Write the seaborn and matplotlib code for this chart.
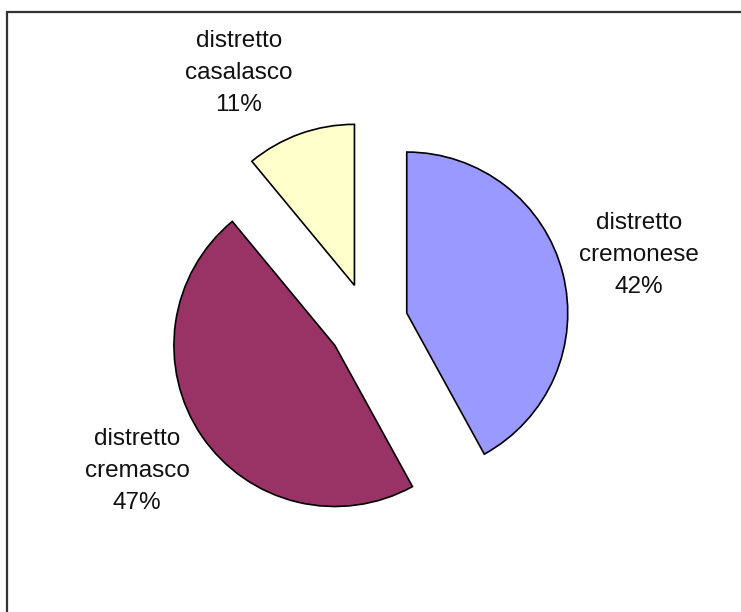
import matplotlib
matplotlib.use("Agg")
import matplotlib.pyplot as plt
import seaborn as sns
from matplotlib.lines import Line2D

sns.set_theme(style="white")
plt.rcParams["font.family"] = ["Liberation Sans", "DejaVu Sans"]

# data
districts = ["distretto cremonese", "distretto cremasco", "distretto casalasco"]
shares = [42, 47, 11]
colors = ["#9999FF", "#993366", "#FFFFCC"]

# layout (pixels)
W, H = 741, 612
R = 161.0
center_px = (368, 323)
explode_px = 40
label_px = [(639, 255), (137, 471), (239, 73)]

fig = plt.figure(figsize=(W / 100, H / 100), dpi=100)
fig.patch.set_facecolor("white")
ax = fig.add_axes([0, 0, 1, 1])

labels = [d.replace(" ", "\n") + f"\n{s}%" for d, s in zip(districts, shares)]
wedges, texts = ax.pie(
    shares,
    labels=labels,
    colors=colors,
    startangle=90,
    counterclock=False,
    center=(center_px[0] / R, (H - center_px[1]) / R),
    radius=1.0,
    explode=[explode_px / R] * len(shares),
    wedgeprops={"edgecolor": "black", "linewidth": 1.2, "joinstyle": "miter"},
    textprops={"fontsize": 17.5, "color": "#111111", "linespacing": 1.6},
)
for t, (lx, ly) in zip(texts, label_px):
    t.set_position((lx / R, (H - ly) / R))
    t.set_ha("center")
    t.set_va("center")
    t.set_multialignment("center")

ax.set_xlim(0, W / R)
ax.set_ylim(0, H / R)
ax.set_aspect("equal")
ax.axis("off")

# chart-area border (top and left visible)
fx = 7 / W
fy = 1 - 12 / H
fig.add_artist(Line2D([fx, fx], [0, fy], transform=fig.transFigure, color="#333333", lw=1.6))
fig.add_artist(Line2D([fx, 1], [fy, fy], transform=fig.transFigure, color="#333333", lw=1.6))

fig.savefig("out.png", dpi=100, facecolor="white")
